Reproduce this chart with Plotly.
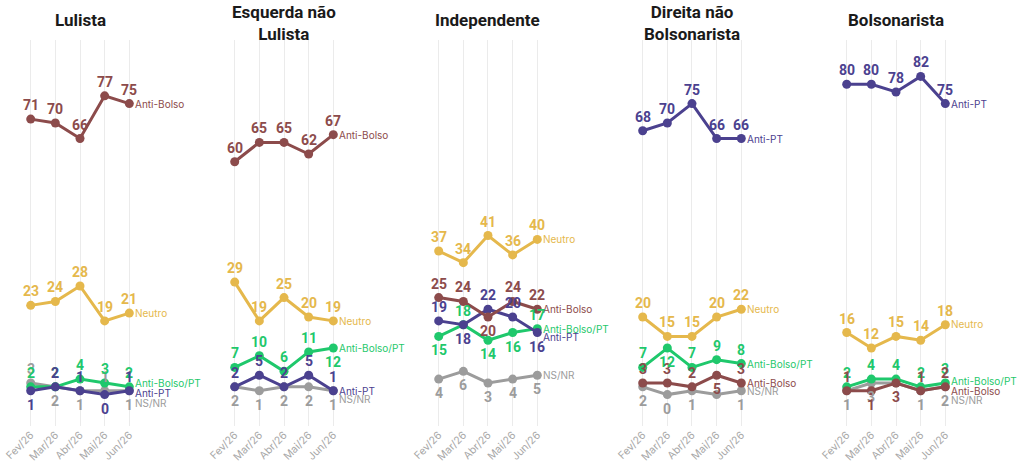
import plotly.graph_objects as go

# ---------------- data ----------------
months = ["Fev/26", "Mar/26", "Abr/26", "Mai/26", "Jun/26"]
panel_titles = ["Lulista", "Esquerda não<br>Lulista", "Independente",
                "Direita não<br>Bolsonarista", "Bolsonarista"]

lul_anti_bolso = [71, 70, 66, 77, 75]
lul_neutro = [23, 24, 28, 19, 21]
lul_anti_bolso_pt = [2, 2, 4, 3, 2]
lul_anti_pt = [1, 2, 1, 0, 1]
lul_nsnr = [3, 2, 1, 1, 1]

esq_anti_bolso = [60, 65, 65, 62, 67]
esq_neutro = [29, 19, 25, 20, 19]
esq_anti_bolso_pt = [7, 10, 6, 11, 12]
esq_anti_pt = [2, 5, 2, 5, 1]
esq_nsnr = [2, 1, 2, 2, 1]

ind_neutro = [37, 34, 41, 36, 40]
ind_anti_bolso = [25, 24, 20, 24, 22]
ind_anti_pt = [19, 18, 22, 20, 16]
ind_anti_bolso_pt = [15, 18, 14, 16, 17]
ind_nsnr = [4, 6, 3, 4, 5]

dir_anti_pt = [68, 70, 75, 66, 66]
dir_neutro = [20, 15, 15, 20, 22]
dir_anti_bolso_pt = [7, 12, 7, 9, 8]
dir_anti_bolso = [3, 3, 2, 5, 3]
dir_nsnr = [2, 0, 1, 0, 1]

bol_anti_pt = [80, 80, 78, 82, 75]
bol_neutro = [16, 12, 15, 14, 18]
bol_anti_bolso_pt = [2, 4, 4, 2, 3]
bol_anti_bolso = [1, 1, 3, 1, 2]
bol_nsnr = [1, 3, 3, 1, 2]

# ---------------- style ----------------
COLORS = {
    "Anti-Bolso": "#8C4B4B",
    "Neutro": "#E5B84C",
    "Anti-Bolso/PT": "#1FC86C",
    "Anti-PT": "#4B418F",
    "NS/NR": "#9C9C9C",
}

# per panel: (series name, values, label positions T/B/-(hidden), end-label y nudge px)
panels = [
    [("Anti-Bolso", lul_anti_bolso, "TTTTT", 0),
     ("Neutro", lul_neutro, "TTTTT", 0),
     ("NS/NR", lul_nsnr, "TBBTB", -12),
     ("Anti-Bolso/PT", lul_anti_bolso_pt, "TTTTT", 4),
     ("Anti-PT", lul_anti_pt, "BTTBT", -2)],
    [("Anti-Bolso", esq_anti_bolso, "TTTTT", 0),
     ("Neutro", esq_neutro, "TTTTT", 0),
     ("NS/NR", esq_nsnr, "BBBBB", -8),
     ("Anti-PT", esq_anti_pt, "TTTTT", 0),
     ("Anti-Bolso/PT", esq_anti_bolso_pt, "TTTTB", 0)],
    [("Neutro", ind_neutro, "TTTTT", 0),
     ("NS/NR", ind_nsnr, "BBBBB", 0),
     ("Anti-Bolso/PT", ind_anti_bolso_pt, "BTBBT", 0),
     ("Anti-PT", ind_anti_pt, "TBTTB", -4),
     ("Anti-Bolso", ind_anti_bolso, "TTBTT", 0)],
    [("Anti-PT", dir_anti_pt, "TTTTT", 0),
     ("Neutro", dir_neutro, "TTTTT", 0),
     ("NS/NR", dir_nsnr, "BBB-B", 0),
     ("Anti-Bolso", dir_anti_bolso, "TTTBT", 0),
     ("Anti-Bolso/PT", dir_anti_bolso_pt, "TBTTT", 0)],
    [("Anti-PT", bol_anti_pt, "TTTTT", 0),
     ("Neutro", bol_neutro, "TTTTT", 1),
     ("NS/NR", bol_nsnr, "BB-BB", -13),
     ("Anti-Bolso/PT", bol_anti_bolso_pt, "TTTTT", 2),
     ("Anti-Bolso", bol_anti_bolso, "TBBTT", -4)],
]

W, H = 1019, 463
FEV0 = 30.7          # pixel x of first month in first panel
STEP = 204.0         # panel spacing in px
UNIT = 24.65         # px per month
Y_TOP_PX, Y_BOT_PX = 40, 426
PX_PER_UNIT = 3.88
Y_ZERO_PX = 394.6
Y_RANGE = [(Y_ZERO_PX - Y_BOT_PX) / PX_PER_UNIT, (Y_ZERO_PX - Y_TOP_PX) / PX_PER_UNIT]

NUM_FONT = "Roboto"
fig = go.Figure()
annotations = []

for i, series in enumerate(panels):
    ax = "" if i == 0 else str(i + 1)
    xref, yref = "x" + ax, "y" + ax
    x0_px = FEV0 + STEP * i - 0.5 * UNIT
    x1_px = x0_px + 5 * UNIT
    fig.layout["xaxis" + ax] = dict(
        domain=[x0_px / W, x1_px / W], range=[-0.5, 4.5], automargin=False,
        tickmode="array", tickvals=list(range(5)), ticktext=months,
        tickangle=-45, tickfont=dict(family="Inter", size=10.5, color="#A8A8A8"),
        showgrid=True, gridcolor="#EBEBEB", gridwidth=1, zeroline=False,
        showline=False, ticks="", anchor=yref, fixedrange=True)
    fig.layout["yaxis" + ax] = dict(
        domain=[1 - Y_BOT_PX / H, 1 - Y_TOP_PX / H], range=Y_RANGE, automargin=False,
        showgrid=False, zeroline=False, showticklabels=False, showline=False,
        anchor=xref, fixedrange=True)

    for name, vals, pos, nudge in series:
        c = COLORS[name]
        fig.add_trace(go.Scatter(
            x=list(range(5)), y=vals, mode="lines+markers",
            line=dict(color=c, width=3), marker=dict(color=c, size=9),
            xaxis=xref, yaxis=yref, showlegend=False, hoverinfo="skip",
            cliponaxis=False))
        annotations.append(dict(
            x=4, y=vals[-1], xref=xref, yref=yref, text=name, showarrow=False,
            xanchor="left", yanchor="middle", xshift=4, yshift=nudge,
            font=dict(family="Inter", size=10, color=c)))

    for name, vals, pos, nudge in series:
        c = COLORS[name]
        for j, v in enumerate(vals):
            if pos[j] == "-":
                continue
            annotations.append(dict(
                x=j, y=v, xref=xref, yref=yref, text=str(v), showarrow=False,
                xanchor="center", yanchor="middle",
                yshift=14 if pos[j] == "T" else -14,
                font=dict(family=NUM_FONT, size=14, color=c, weight=700)))

    two_lines = "<br>" in panel_titles[i]
    annotations.append(dict(
        x=2, y=1 - (22.5 if two_lines else 20.5) / H, xref=xref, yref="paper",
        text="<b>" + panel_titles[i] + "</b>",
        showarrow=False, xanchor="center", yanchor="middle",
        font=dict(family="Roboto", size=17, color="#1A1A1A")))

fig.update_layout(
    width=W, height=H, margin=dict(l=0, r=0, t=0, b=0, autoexpand=False),
    paper_bgcolor="white", plot_bgcolor="rgba(0,0,0,0)",
    annotations=annotations, showlegend=False,
)

fig.write_html("out.html", config={"displayModeBar": False},
               post_script="document.body.style.margin='0';document.body.style.overflow='hidden';")
